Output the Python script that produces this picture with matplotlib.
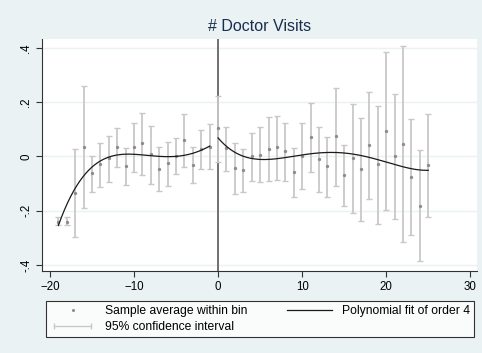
import numpy as np
import matplotlib
matplotlib.use('Agg')
import matplotlib.pyplot as plt
from matplotlib.lines import Line2D
from matplotlib.legend_handler import HandlerLine2D

plt.rcParams['font.family'] = ['Liberation Sans', 'DejaVu Sans']

# bin averages and 95% CI bounds, running variable -19..25
bins = list(range(-19, 26))
bin_mean = [-0.242, -0.242, -0.133, 0.036, -0.060, -0.029, -0.004, 0.036, -0.034, 0.034,
            0.050, 0.008, -0.045, -0.024, 0.003, 0.061, -0.030, 0.028, 0.036,
            0.104, 0.030, -0.041, -0.051, 0.000, 0.007, 0.028, 0.034, 0.019, -0.057,
            0.001, 0.071, -0.010, -0.036, 0.077, -0.069, -0.006, -0.047, 0.044, -0.029,
            0.095, 0.001, 0.047, -0.075, -0.181, -0.033]
ci_hi = [-0.224, -0.224, 0.026, 0.261, 0.003, 0.051, 0.077, 0.105, 0.032, 0.123,
         0.160, 0.113, 0.035, 0.055, 0.069, 0.155, 0.036, 0.096, 0.121,
         0.224, 0.110, 0.051, 0.029, 0.088, 0.107, 0.144, 0.150, 0.123, 0.032,
         0.123, 0.198, 0.107, 0.073, 0.253, 0.043, 0.193, 0.141, 0.236, 0.187,
         0.385, 0.230, 0.407, 0.139, 0.024, 0.155]
ci_lo = [-0.252, -0.252, -0.295, -0.189, -0.132, -0.113, -0.095, -0.038, -0.105, -0.058,
         -0.068, -0.101, -0.126, -0.107, -0.066, -0.038, -0.099, -0.046, -0.046,
         -0.019, -0.052, -0.138, -0.132, -0.089, -0.095, -0.089, -0.085, -0.089, -0.149,
         -0.119, -0.058, -0.132, -0.149, -0.107, -0.182, -0.207, -0.238, -0.155, -0.250,
         -0.198, -0.231, -0.316, -0.289, -0.385, -0.222]

# fitted curve values on each side of the cutoff
fit_left_x = [-19, -16, -14, -12, -10, -8.5, -6, -4, -3, -1]
fit_left_y = [-0.255, -0.068, -0.019, 0.003, 0.008, 0.008, 0.000, 0.002, 0.012, 0.039]
fit_right_x = [0, 1, 2, 3, 4, 5, 6, 7, 9, 11, 13, 15, 17, 19, 21, 23, 25]
fit_right_y = [0.067, 0.039, 0.018, -0.001, -0.008, -0.013, -0.012, -0.006, 0.003,
               0.009, 0.015, 0.014, 0.002, -0.013, -0.029, -0.043, -0.052]

bg = '#EAF2F3'
ci_col = '#C8C8C8'
pt_col = '#8C8C8C'

fig = plt.figure(figsize=(4.82, 3.53), dpi=100, facecolor=bg)
ax = fig.add_axes([0.0871, 0.2323, 0.9025, 0.6572])
ax.set_facecolor('white')

x = np.array(bins)
m = np.array(bin_mean)
ax.errorbar(x, m, yerr=[m - np.array(ci_lo), np.array(ci_hi) - m], fmt='none',
            ecolor=ci_col, elinewidth=1.3, capsize=2.3, capthick=1.0, zorder=2)
ax.plot(x, m, 'o', color=pt_col, markersize=2.4, markeredgewidth=0, zorder=3)

# order-4 polynomial on each side
for fx, fy in [(fit_left_x, fit_left_y), (fit_right_x, fit_right_y)]:
    c = np.polyfit(fx, fy, 4)
    xs = np.linspace(fx[0], fx[-1], 200)
    ax.plot(xs, np.polyval(c, xs), color='#1a1a1a', lw=0.9, zorder=4)

ax.axvline(0, color='#707070', lw=1.4, zorder=1)

ax.set_xlim(-20.95, 30.8)
ax.set_ylim(-0.422, 0.433)
ax.set_xticks([-20, -10, 0, 10, 20, 30])
ax.set_yticks([-0.4, -0.2, 0, 0.2, 0.4])
ax.set_yticklabels(['-.4', '-.2', '0', '.2', '.4'], rotation=90, va='center')
ax.yaxis.grid(True, color=bg, lw=1.0)
ax.set_axisbelow(True)
ax.tick_params(axis='both', labelsize=8.3, length=4, width=0.8, color='#333333', pad=3)
for s in ['top', 'right']:
    ax.spines[s].set_visible(False)
for s in ['left', 'bottom']:
    ax.spines[s].set_color('#333333')
    ax.spines[s].set_linewidth(0.8)

ax.set_title('# Doctor Visits', fontsize=11.5, color='#1A2F4F', pad=6)

h_pt = Line2D([], [], ls='none', marker='o', color=pt_col, markersize=2.2, markeredgewidth=0)
h_ci = Line2D([], [], color=ci_col, lw=1.0, marker='|', markersize=4)
h_fit = Line2D([], [], color='#1a1a1a', lw=0.9)
labels = ['Sample average within bin', '95% confidence interval', 'Polynomial fit of order 4']
leg = fig.legend([h_pt, h_ci, h_fit], labels, ncol=2, loc='lower left',
                 bbox_to_anchor=(46 / 482, 16 / 353, 428 / 482, 38 / 353), mode='expand',
                 fontsize=8.7, handlelength=3.7, numpoints=1, frameon=True, fancybox=False,
                 borderpad=0.35, labelspacing=0.3, handletextpad=0.8, borderaxespad=0,
                 handler_map={h_ci: HandlerLine2D(numpoints=2)})
leg.get_frame().set_edgecolor('black')
leg.get_frame().set_linewidth(0.8)

fig.savefig('out.png', dpi=100, facecolor=bg)
